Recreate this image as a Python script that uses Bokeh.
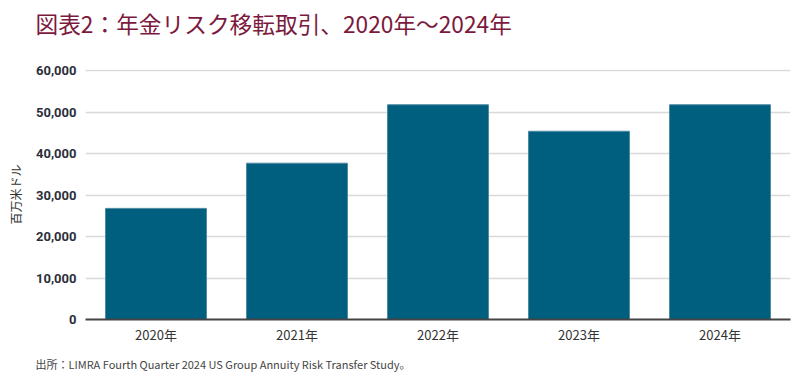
from bokeh.plotting import figure
from bokeh.models import ColumnDataSource, FixedTicker, NumeralTickFormatter, Title, Range1d
from bokeh.embed import file_html
from bokeh.resources import INLINE

years = ["2020年", "2021年", "2022年", "2023年", "2024年"]
values = [26800, 37700, 51800, 45400, 51800]
y_ticks = [0, 10000, 20000, 30000, 40000, 50000, 60000]

title_text = "図表2：年金リスク移転取引、2020年～2024年"
source_text = "出所：LIMRA Fourth Quarter 2024 US Group Annuity Risk Transfer Study。"
y_label = "百万米ドル"

src = ColumnDataSource(dict(x=years, top=values))

p = figure(x_range=years, y_range=Range1d(0, 60300), width=791, height=378,
           output_backend="svg", toolbar_location=None,
           min_border_left=85, min_border_right=1, min_border_top=68, min_border_bottom=53)
p.outline_line_color = None
p.background_fill_color = "white"

p.vbar(x="x", top="top", width=0.716, source=src, fill_color="#005f7e",
       line_color="#4f8aa3", line_width=1)

# spacer between frame and title
p.add_layout(Title(text=" ", text_font_size="1px", standoff=23), "above")
p.add_layout(Title(text=title_text, align="left", offset=-50, standoff=8,
                   text_font="Noto Sans CJK JP", text_font_size="22.7px",
                   text_font_style="normal", text_color="#7b1a3e"), "above")
p.add_layout(Title(text=source_text, align="left", offset=-50, standoff=14,
                   text_font="Noto Sans CJK JP", text_font_size="11px",
                   text_font_style="normal", text_color="#444444"), "below")

p.xgrid.grid_line_color = None
p.ygrid.grid_line_color = "#d9d9d9"
p.ygrid.grid_line_width = 1.5

p.yaxis.ticker = FixedTicker(ticks=y_ticks)
p.yaxis.formatter = NumeralTickFormatter(format="0,0")
p.yaxis.axis_line_color = None
p.yaxis.major_tick_line_color = None
p.yaxis.minor_tick_line_color = None
p.yaxis.major_tick_out = 0
p.yaxis.major_tick_in = 0
p.yaxis.major_label_text_font = "Roboto"
p.yaxis.major_label_text_font_style = "bold"
p.yaxis.major_label_text_font_size = "13px"
p.yaxis.major_label_text_color = "#2b2f3a"
p.yaxis.major_label_standoff = 9
p.yaxis.axis_label = y_label
p.yaxis.axis_label_text_font = "Noto Sans CJK JP"
p.yaxis.axis_label_text_font_style = "normal"
p.yaxis.axis_label_text_font_size = "12px"
p.yaxis.axis_label_text_color = "#333333"
p.yaxis.axis_label_standoff = 9

p.xaxis.axis_line_color = "#444444"
p.xaxis.axis_line_width = 2
p.xaxis.major_tick_line_color = None
p.xaxis.minor_tick_line_color = None
p.xaxis.major_tick_out = 0
p.xaxis.major_tick_in = 0
p.xaxis.major_label_text_font = "Noto Sans CJK JP"
p.xaxis.major_label_text_font_size = "13px"
p.xaxis.major_label_text_color = "#333333"
p.xaxis.major_label_standoff = 5

open("out.html", "w").write(file_html(p, INLINE))
